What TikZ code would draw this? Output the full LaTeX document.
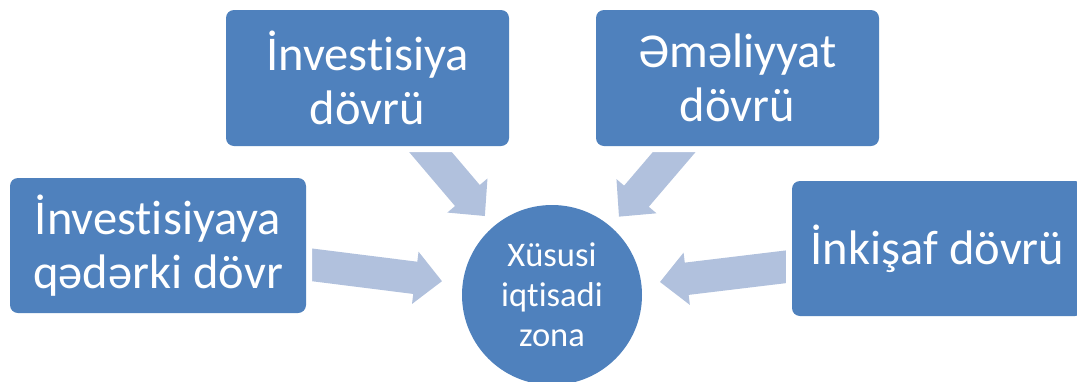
\documentclass[tikz,border=0pt]{standalone}
\usepackage{fontspec}
\setmainfont{Carlito}[Ligatures={NoCommon}]
\usetikzlibrary{arrows.meta}
\definecolor{boxblue}{HTML}{4F81BD}
\definecolor{arrblue}{HTML}{B1C1DD}
\pgfdeclarelayer{bg}
\pgfsetlayers{bg,main}
\tikzset{
  box/.style={rectangle, rounded corners=8pt, fill=boxblue, text=white,
    align=center, inner sep=0pt, minimum width=283pt, minimum height=136pt,
    font=\fontsize{48.5}{54}\selectfont,
    preaction={draw=white, line width=12pt}},
  hub/.style={circle, fill=boxblue, text=white, align=center, inner sep=0pt,
    minimum size=180pt, font=\fontsize{34.5}{40}\selectfont},
  blockarrow/.style={draw=arrblue, line width=32.5pt,
    -{Triangle[width=51pt,length=27pt,fill=arrblue]}}
}
\begin{document}
\begin{tikzpicture}[x=1pt,y=-1pt]
\useasboundingbox (0,0) rectangle (1077,381);
\node[hub] (hub) at (552,295) {Xüsusi\\iqtisadi\\zona};
\node[box] (pre) at (158,245.5) [minimum width=296pt, minimum height=135pt] {İnvestisiyaya\\qədərki dövr};
\node[box] (inv) at (367.5,78) {İnvestisiya\\dövrü};
\node[box] (ops) at (737.5,78) {Əməliyyat\\dövrü};
\node[box] (dev) at (937.5,248.5) [minimum width=291pt, minimum height=135pt] {İnkişaf dövrü};
\begin{pgfonlayer}{bg}
\draw[blockarrow, shorten >=110.8pt] (pre.center) -- (hub.center);
\draw[blockarrow, shorten >=103.6pt] (inv.center) -- (hub.center);
\draw[blockarrow, shorten >=103pt] (ops.center) -- (hub.center);
\draw[blockarrow, shorten >=108.7pt] (dev.center) -- (hub.center);
\end{pgfonlayer}
\end{tikzpicture}
\end{document}
